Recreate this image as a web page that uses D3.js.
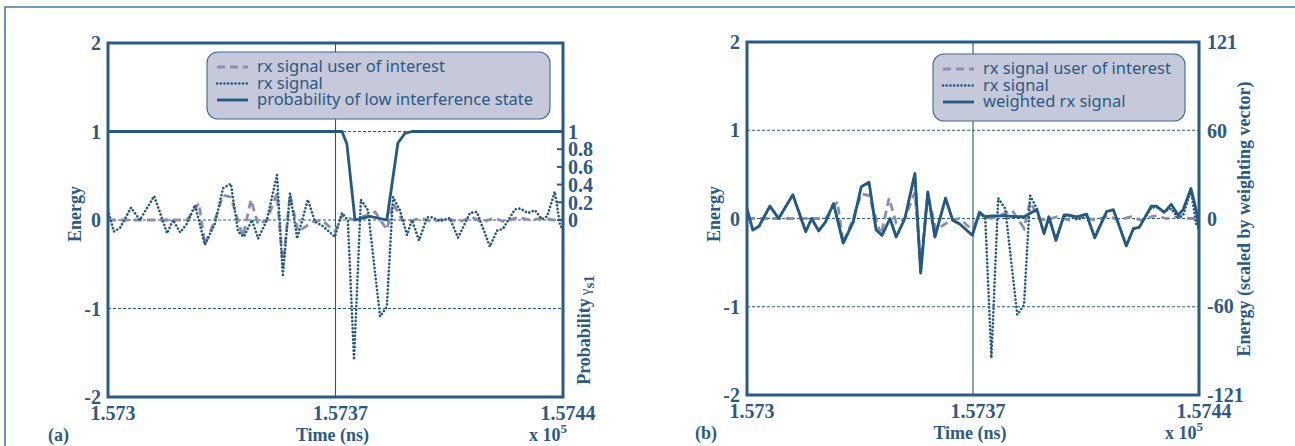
<!DOCTYPE html>
<html lang="en">
<head>
  <meta charset="UTF-8">
  <title>Energy vs time (a) / (b)</title>
  <script src="https://d3js.org/d3.v7.min.js"></script>
  <style>
    body { margin: 0; background: #fff; }
    .tick-label { font-family: "Liberation Serif", serif; font-weight: bold; font-size: 20px; fill: #2b5a86; }
    .axis-title { font-family: "Liberation Serif", serif; font-weight: bold; font-size: 18px; fill: #2b5a86; }
    .legend { font-family: "Noto Sans", sans-serif; font-size: 16.5px; fill: #2b5a86; }
  </style>
</head>
<body>
  <svg width="1295" height="446"></svg>

  <script>
    // time axis (ns), offsets from T0
    const T0 = 157300;
    const xTickValues = [157300, 157370, 157440];
    const xTickLabels = ["1.573", "1.5737", "1.5744"];
    const energyTicks = [-2, -1, 0, 1, 2];
    const gridTicks = [-1, 0, 1];
    const probTicks = [0, 0.2, 0.4, 0.6, 0.8, 1];
    const probTickLabels = ["0", "0.2", "0.4", "0.6", "0.8", "1"];
    const weightTicks = [-121, -60, 0, 60, 121];

    // rx signal (dotted) and weighted rx signal share these sample times
    const rxTime = [0, 1.8, 3.7, 7.1, 9.8, 14.2, 18.2, 20.0, 22.2, 24.3,
      26.8, 29.8, 32.9, 35.4, 37.8, 40.0, 41.8, 44.3, 46.2, 48.9,
      52.0, 53.8, 56.0, 58.2, 61.5, 63.7, 65.8, 69.8, 72.0, 73.8,
      75.7, 77.8, 80.0, 83.7, 85.8, 87.7, 89.8, 92.0, 93.5, 95.7,
      98.2, 99.7, 102.2, 105.2, 107.7, 111.4, 113.5, 117.5, 119.7, 121.5,
      125.2, 126.8, 129.2, 131.4, 133.5, 135.1, 137.5, 139.1, 140];
    const rxSignal = [0.11, -0.13, -0.09, 0.14, 0.0, 0.27, -0.15, 0.0, -0.14, -0.04,
      0.17, -0.28, -0.04, 0.36, 0.41, -0.13, -0.19, 0.0, -0.21, 0.0,
      0.51, -0.62, 0.30, -0.21, 0.23, -0.02, -0.06, -0.19, 0.08, 0.0,
      -1.58, 0.23, 0.11, -1.09, -0.98, 0.26, 0.11, -0.17, 0.0, -0.23,
      0.03, 0.03, -0.01, 0.02, -0.20, 0.08, 0.09, -0.30, -0.12, -0.10,
      0.12, 0.13, 0.08, 0.11, 0.01, 0.04, 0.32, -0.06, -0.10];
    // weighted rx signal, in right-axis units
    const weightedSignal = [6.7, -7.9, -5.4, 8.5, 0, 16.3, -9.1, 0, -8.5, -2.4,
      10.3, -16.9, -2.4, 21.8, 24.8, -7.9, -11.5, 0, -12.7, 0,
      30.9, -37.5, 18.2, -12.7, 13.9, -1.2, -3.6, -11.5, 4.2, 1.2,
      1.8, 1.8, 1.8, 1.2, 1.2, 3.6, 6.1, -10.3, 1.2, -15.1,
      2.4, 2.4, 1.2, 3.0, -13.3, 4.8, 6.1, -18.8, -6.7, -6.1,
      8.5, 8.5, 4.2, 9.7, 2.4, 6.1, 20.6, 6.1, -7.9];

    // rx signal user of interest (dashed)
    const userTime = [0, 24.3, 28.0, 29.8, 32.9, 35.4, 37.8, 41.5, 44.0, 46.2,
      48.9, 52.0, 53.8, 56.0, 58.5, 63.1, 65.8, 69.8, 72.0, 75.7,
      82.2, 85.8, 87.7, 90.5, 92.6, 96, 100, 104, 108, 112,
      115, 119, 122, 126, 130, 134, 137, 140];
    const userSignal = [0, 0, 0.19, -0.28, 0, 0.28, 0.26, -0.19, 0.23, -0.05,
      0, 0.30, -0.53, 0.28, -0.13, -0.02, 0, -0.13, 0.05, 0,
      0.09, -0.11, 0.19, 0, -0.02, 0.02, -0.02, 0.02, -0.02, 0.03,
      -0.02, 0.02, -0.02, 0.03, 0, 0.02, 0, 0];

    // probability of low interference state
    const probTime = [0, 72.0, 73.5, 76.0, 80.6, 85.8, 89.2, 91.4, 93.5, 140];
    const probLow = [1, 1, 0.86, 0, 0.04, 0, 0.87, 0.98, 1, 1];

    const ink = "#2a5a86", lineBlue = "#235a84", lavender = "#8a8fb1";
    const dotDash = "0.1,3.6";

    const svg = d3.select("svg");

    // figure frame (top and left edges only)
    svg.append("path").attr("d", "M5,446 V7 H1295")
      .attr("fill", "none").attr("stroke", "#4a7898").attr("stroke-width", 1.6);

    function series(t, v) { return t.map((d, i) => ({ t: T0 + d, v: v[i] })); }

    function drawPanel(p) {
      const g = svg.append("g");
      const x = d3.scaleLinear().domain([T0, T0 + 140]).range([p.left, p.right]);
      const y = d3.scaleLinear().domain([-2, 2]).range([p.bottom, p.top]);

      // grid lines
      g.selectAll(".grid").data(gridTicks).enter().append("line")
        .attr("x1", p.left).attr("x2", p.right)
        .attr("y1", d => y(d)).attr("y2", d => y(d))
        .attr("stroke", lineBlue).attr("stroke-width", 1).attr("stroke-dasharray", "3,2");
      g.append("line")
        .attr("x1", x(157370)).attr("x2", x(157370))
        .attr("y1", p.top).attr("y2", p.bottom)
        .attr("stroke", lineBlue).attr("stroke-width", 1.1);

      const clip = "clip" + p.id;
      svg.append("clipPath").attr("id", clip).append("rect")
        .attr("x", p.left).attr("y", p.top).attr("width", p.right - p.left).attr("height", p.bottom - p.top);
      const plot = g.append("g").attr("clip-path", `url(#${clip})`);

      const lineE = d3.line().x(d => x(d.t)).y(d => y(d.v));

      plot.append("path").datum(series(userTime, userSignal))
        .attr("d", lineE).attr("fill", "none").attr("stroke", lavender)
        .attr("stroke-width", 2.8).attr("stroke-dasharray", "8,5");
      plot.append("path").datum(series(rxTime, rxSignal))
        .attr("d", lineE).attr("fill", "none").attr("stroke", lineBlue)
        .attr("stroke-width", 2.6).attr("stroke-dasharray", dotDash).attr("stroke-linecap", "round");

      if (p.id === "a") {
        const yp = d3.scaleLinear().domain([0, 1]).range([y(0), y(1)]);
        plot.append("path").datum(series(probTime, probLow))
          .attr("d", d3.line().x(d => x(d.t)).y(d => yp(d.v)))
          .attr("fill", "none").attr("stroke", lineBlue).attr("stroke-width", 2.8)
          .attr("stroke-linejoin", "round");
        g.selectAll(".ptick").data(probTicks).enter().append("line")
          .attr("x1", p.right - 6).attr("x2", p.right)
          .attr("y1", d => yp(d)).attr("y2", d => yp(d))
          .attr("stroke", ink).attr("stroke-width", 2);
        g.selectAll(".plab").data(probTicks).enter().append("text")
          .attr("class", "tick-label").attr("x", p.right + 5).attr("y", d => yp(d))
          .attr("dy", "0.36em").text((d, i) => probTickLabels[i]);
        const tt = g.append("text").attr("class", "axis-title")
          .attr("transform", `translate(${p.right + 27},330) rotate(-90)`)
          .attr("text-anchor", "middle");
        tt.append("tspan").text("Probability");
        tt.append("tspan").attr("font-weight", "normal").attr("font-size", 15).attr("dx", 3).text("γ");
        tt.append("tspan").attr("dy", 4).attr("font-size", 15).text("s1");
      } else {
        const yw = d3.scaleLinear().domain([-121, 121]).range([p.bottom, p.top]);
        plot.append("path").datum(series(rxTime, weightedSignal))
          .attr("d", d3.line().x(d => x(d.t)).y(d => yw(d.v)))
          .attr("fill", "none").attr("stroke", lineBlue).attr("stroke-width", 2.8)
          .attr("stroke-linejoin", "round");
        g.selectAll(".wlab").data(weightTicks).enter().append("text")
          .attr("class", "tick-label").attr("x", p.right + 8).attr("y", d => yw(d))
          .attr("dy", "0.36em").text(d => d);
        g.append("text").attr("class", "axis-title").attr("font-size", 19.5)
          .attr("transform", `translate(${p.right + 51},219) rotate(-90)`)
          .attr("text-anchor", "middle").text("Energy (scaled by weighting vector)");
      }

      // plot box
      g.append("rect").attr("x", p.left).attr("y", p.top)
        .attr("width", p.right - p.left).attr("height", p.bottom - p.top)
        .attr("fill", "none").attr("stroke", ink).attr("stroke-width", 3);

      // left energy axis labels
      g.selectAll(".elab").data(energyTicks).enter().append("text")
        .attr("class", "tick-label").attr("x", p.left - 7).attr("y", d => y(d))
        .attr("dy", "0.36em").attr("text-anchor", "end").text(d => d);
      g.append("text").attr("class", "axis-title").attr("font-size", 19)
        .attr("transform", `translate(${p.left - 27},214) rotate(-90)`)
        .attr("text-anchor", "middle").text("Energy");

      // x axis labels
      g.selectAll(".xlab").data(xTickValues).enter().append("text")
        .attr("class", "tick-label").attr("x", d => x(d) + 5).attr("y", p.bottom + 23)
        .attr("text-anchor", "middle").text((d, i) => xTickLabels[i]);
      g.append("text").attr("class", "axis-title")
        .attr("x", x(157370) - 3).attr("y", p.bottom + 44)
        .attr("text-anchor", "middle").text("Time (ns)");
      const ex = g.append("text").attr("class", "axis-title")
        .attr("x", p.right - 34).attr("y", p.bottom + 44);
      ex.append("tspan").text("x 10");
      ex.append("tspan").attr("dy", -8).attr("font-size", 13).text("5");
      g.append("text").attr("class", "axis-title")
        .attr("x", p.label).attr("y", p.bottom + 44).text(`(${p.id})`);

      // legend
      const lg = g.append("g").attr("transform", `translate(${p.legX},${p.legY})`);
      lg.append("rect").attr("width", p.legW).attr("height", 67).attr("rx", 11)
        .attr("fill", "#c6c9d9").attr("stroke", "#3a6a96").attr("stroke-width", 1.1);
      const items = [
        { name: "rx signal user of interest", color: lavender, dash: "8,5", w: 2.8, cap: "butt" },
        { name: "rx signal", color: lineBlue, dash: dotDash, w: 2.6, cap: "round" },
        { name: p.id === "a" ? "probability of low interference state" : "weighted rx signal",
          color: lineBlue, dash: null, w: 2.8, cap: "butt" }
      ];
      items.forEach((it, i) => {
        const yy = 15 + i * 16.5;
        lg.append("line").attr("x1", 10).attr("x2", 41).attr("y1", yy).attr("y2", yy)
          .attr("stroke", it.color).attr("stroke-width", it.w)
          .attr("stroke-dasharray", it.dash).attr("stroke-linecap", it.cap);
        lg.append("text").attr("class", "legend").attr("x", 50).attr("y", yy + 5).text(it.name);
      });
    }

    drawPanel({ id: "a", left: 108, right: 563, top: 43, bottom: 397, label: 48,
      legX: 207, legY: 52, legW: 343 });
    drawPanel({ id: "b", left: 747, right: 1199, top: 42, bottom: 395, label: 695,
      legX: 933, legY: 54, legW: 252 });
  </script>
</body>
</html>
